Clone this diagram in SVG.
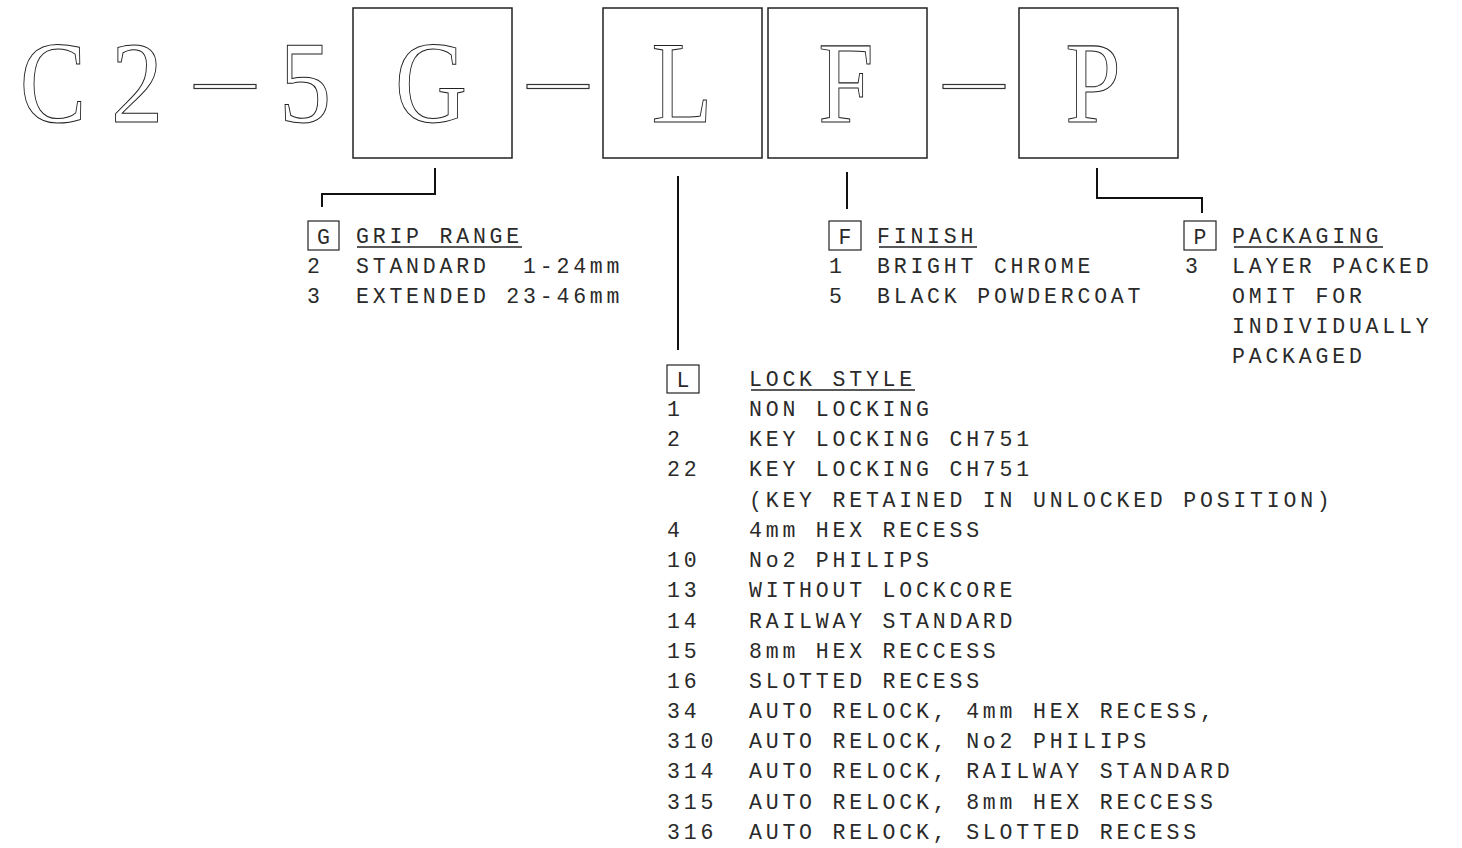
<svg xmlns="http://www.w3.org/2000/svg" width="1462" height="848" viewBox="0 0 1462 848">
<style>
.big{font-family:"Liberation Serif","Times New Roman",serif;font-size:116px;fill:none;stroke:#222;stroke-width:1;text-anchor:middle}
.t{font-family:"Liberation Mono","DejaVu Sans Mono",monospace;font-size:21.5px;fill:#2a2a2a;letter-spacing:3.8px;white-space:pre}
.c{font-family:"Liberation Mono","DejaVu Sans Mono",monospace;font-size:21.5px;fill:#2a2a2a;text-anchor:middle}
.bx{fill:none;stroke:#222;stroke-width:1.5}
.sb{fill:none;stroke:#222;stroke-width:1.2}
.ul{stroke:#222;stroke-width:1.3}
.cn{fill:none;stroke:#111;stroke-width:2}
.dash{fill:none;stroke:#333;stroke-width:1.2}
</style>
<rect width="1462" height="848" fill="#fff"/>
<g id="code">
<text class="big" transform="translate(53,122) scale(0.86,1)">C</text>
<text class="big" transform="translate(137,122) scale(0.9,1)">2</text>
<rect class="dash" x="194" y="84.5" width="62" height="4"/>
<text class="big" transform="translate(305,122) scale(0.9,1)">5</text>
<rect class="dash" x="527" y="84.5" width="62" height="4"/>
<rect class="dash" x="943" y="84.5" width="62" height="4"/>
</g>
<g id="node-G">
<rect class="bx" x="353" y="8" width="159" height="150"/>
<text class="big" transform="translate(431,122) scale(0.86,1)">G</text>
</g>
<g id="node-L">
<rect class="bx" x="603" y="8" width="159" height="150"/>
<text class="big" transform="translate(682,122) scale(0.86,1)">L</text>
</g>
<g id="node-F">
<rect class="bx" x="768" y="8" width="159" height="150"/>
<text class="big" transform="translate(846,122) scale(0.86,1)">F</text>
</g>
<g id="node-P">
<rect class="bx" x="1019" y="8" width="159" height="150"/>
<text class="big" transform="translate(1093,122) scale(0.86,1)">P</text>
</g>
<g id="connectors">
<polyline class="cn" points="435,168 435,194 322,194 322,207"/>
<line class="cn" x1="678" y1="176" x2="678" y2="350"/>
<line class="cn" x1="847" y1="172" x2="847" y2="209"/>
<polyline class="cn" points="1097,168 1097,198 1202,198 1202,213"/>
</g>
<g id="legend-G">
<rect class="sb" x="308" y="221" width="31" height="29"/>
<text class="c" x="323.5" y="244">G</text>
<text class="t" x="356" y="243">GRIP RANGE</text>
<line class="ul" x1="357" y1="247" x2="522" y2="247"/>
<text class="t" x="307" y="273">2</text>
<text class="t" x="356" y="273" xml:space="preserve">STANDARD  1-24mm</text>
<text class="t" x="307" y="303">3</text>
<text class="t" x="356" y="303">EXTENDED 23-46mm</text>
</g>
<g id="legend-F">
<rect class="sb" x="829" y="221" width="32" height="29"/>
<text class="c" x="845" y="244">F</text>
<text class="t" x="877" y="243">FINISH</text>
<line class="ul" x1="879" y1="247" x2="977" y2="247"/>
<text class="t" x="829" y="273">1</text>
<text class="t" x="877" y="273">BRIGHT CHROME</text>
<text class="t" x="829" y="303">5</text>
<text class="t" x="877" y="303">BLACK POWDERCOAT</text>
</g>
<g id="legend-P">
<rect class="sb" x="1184" y="221" width="32" height="29"/>
<text class="c" x="1200" y="244">P</text>
<text class="t" x="1232" y="243">PACKAGING</text>
<line class="ul" x1="1234" y1="247" x2="1383" y2="247"/>
<text class="t" x="1185" y="273">3</text>
<text class="t" x="1232" y="273">LAYER PACKED</text>
<text class="t" x="1232" y="303">OMIT FOR</text>
<text class="t" x="1232" y="333">INDIVIDUALLY</text>
<text class="t" x="1232" y="363">PACKAGED</text>
</g>
<g id="legend-L">
<rect class="sb" x="667" y="365" width="32" height="28"/>
<text class="c" x="683" y="387">L</text>
<text class="t" x="749" y="386">LOCK STYLE</text>
<line class="ul" x1="751" y1="390" x2="915" y2="390"/>
<text class="t" x="667" y="416">1</text><text class="t" x="749" y="416">NON LOCKING</text>
<text class="t" x="667" y="446">2</text><text class="t" x="749" y="446">KEY LOCKING CH751</text>
<text class="t" x="667" y="476">22</text><text class="t" x="749" y="476">KEY LOCKING CH751</text>
<text class="t" x="749" y="507">(KEY RETAINED IN UNLOCKED POSITION)</text>
<text class="t" x="667" y="537">4</text><text class="t" x="749" y="537">4mm HEX RECESS</text>
<text class="t" x="667" y="567">10</text><text class="t" x="749" y="567">No2 PHILIPS</text>
<text class="t" x="667" y="597">13</text><text class="t" x="749" y="597">WITHOUT LOCKCORE</text>
<text class="t" x="667" y="628">14</text><text class="t" x="749" y="628">RAILWAY STANDARD</text>
<text class="t" x="667" y="658">15</text><text class="t" x="749" y="658">8mm HEX RECCESS</text>
<text class="t" x="667" y="688">16</text><text class="t" x="749" y="688">SLOTTED RECESS</text>
<text class="t" x="667" y="718">34</text><text class="t" x="749" y="718">AUTO RELOCK, 4mm HEX RECESS,</text>
<text class="t" x="667" y="748">310</text><text class="t" x="749" y="748">AUTO RELOCK, No2 PHILIPS</text>
<text class="t" x="667" y="778">314</text><text class="t" x="749" y="778">AUTO RELOCK, RAILWAY STANDARD</text>
<text class="t" x="667" y="809">315</text><text class="t" x="749" y="809">AUTO RELOCK, 8mm HEX RECCESS</text>
<text class="t" x="667" y="839">316</text><text class="t" x="749" y="839">AUTO RELOCK, SLOTTED RECESS</text>
</g>
</svg>
